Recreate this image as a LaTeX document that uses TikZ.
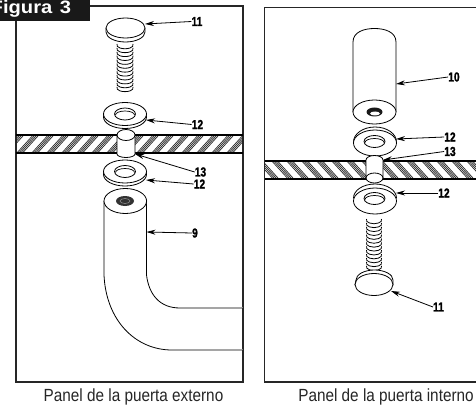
\documentclass[tikz,border=0pt]{standalone}
\usepackage{fontspec}
\setmainfont{Liberation Sans}
\newfontfamily\numfont[FakeStretch=0.78,FakeBold=1.5]{Liberation Sans Bold}
\newfontfamily\headfont[FakeStretch=1.12]{Liberation Sans Bold}
\newfontfamily\capfont[FakeStretch=0.87]{Liberation Sans}
\usetikzlibrary{arrows.meta}
\tikzset{
  part/.style={draw=black,fill=white,line width=0.8pt},
  frameline/.style={draw=black!85,line width=1.1pt},
  numlabel/.style={font=\numfont\fontsize{13}{13}\selectfont,inner sep=0pt},
  leader/.style={draw=black,line width=0.8pt,-{Stealth[length=9pt,width=5pt]}},
  captionlabel/.style={font=\capfont\fontsize{17.6}{18}\selectfont,inner sep=0pt,text=black!85},
}
% washer with its rim below: centre x,y of the top face
\newcommand{\washer}[2]{
  \draw[part] (#1-21.5,#2) -- (#1-21.5,#2+3) arc[start angle=180,end angle=0,x radius=21.5,y radius=11.5] -- (#1+21.5,#2);
  \draw[part] (#1,#2) ellipse[x radius=21.5,y radius=11.5];
}
\newcommand{\hole}[2]{
  \draw[part] (#1,#2) ellipse[x radius=10.5,y radius=6];
  \draw[black,line width=0.7pt] (#1-9.5,#2+1) arc[start angle=180,end angle=360,x radius=9.5,y radius=4];
}
\newcommand{\thread}[4]{% x1 x2 y1 count
  \foreach \tn in {0,...,#4}{
    \pgfmathsetmacro{\ty}{#3+\tn*3.9}
    \draw[black,line width=0.8pt] (#1,\ty) .. controls (#1-1,\ty+2) and (#1+1,\ty+3) .. (#1+3,\ty+4) .. controls (#1+6,\ty+5) and (#2-6,\ty+5) .. (#2-3,\ty+4) .. controls (#2-1,\ty+3) and (#2+1,\ty+2) .. (#2,\ty);
  }
}
\begin{document}
\begin{tikzpicture}[x=1pt,y=-1pt]
\useasboundingbox (0,0) rectangle (476,409);
\fill[white] (0,0) rectangle (476,409);
% frames
\draw[frameline] (85,6) -- (243,6) -- (243,382) -- (16,382) -- (16,15);
\draw[frameline] (476,7.5) -- (264.5,7.5) -- (264.5,382) -- (476,382);
% heading
\begin{scope}
\clip (0,0) rectangle (90,21);
\fill[black!90] (0,0) rectangle (90,21);
\node[anchor=base west,inner sep=0pt,text=white,font=\headfont\fontsize{18}{18}\selectfont] (fig) at (-9.5,14) {Figura\ \kern2pt 3};
\end{scope}
% left hatched band
\begin{scope}
\clip (16,135) rectangle (243,153);
\foreach \hn in {0,...,18}{
  \foreach \hd in {0,1.9,3.8,5.7}{
    \pgfmathsetmacro{\hxa}{\hn*15+\hd}
    \draw[black!85,line width=0.7pt] (\hxa,155) -- (\hxa+20,133);
  }
}
\end{scope}
\draw[black,line width=1.4pt] (16,135) -- (243,135) (16,153) -- (243,153);
% right hatched band
\begin{scope}
\clip (265,161) rectangle (476,179);
\foreach \hn in {0,...,17}{
  \foreach \hd in {0,1.9,3.8,5.7}{
    \pgfmathsetmacro{\hxa}{240+\hn*15+\hd}
    \draw[black!85,line width=0.7pt] (\hxa,159) -- (\hxa+20,181);
  }
}
\end{scope}
\draw[black,line width=1.4pt] (265,161) -- (476,161) (265,179) -- (476,179);
% left bolt
\thread{117}{133}{44}{11}
\draw[part] (106,28) -- (106,32) arc[start angle=180,end angle=0,x radius=19.5,y radius=10] -- (145,28);
\draw[part] (125.5,28) ellipse[x radius=19.5,y radius=10];
% left upper washer
\washer{125}{114}
\hole{125}{114}
% left spacer
\draw[part] (117,136) -- (117,154) arc[start angle=180,end angle=0,x radius=9,y radius=3.5] -- (135,136);
\draw[part] (126,135) ellipse[x radius=9,y radius=5.5];
% left lower washer
\washer{125}{171.5}
\hole{125}{171.5}
% left handle
\draw[part] (104,201) -- (104,275) .. controls (106,320) and (135,350) .. (172,350) -- (243,350);
\draw[part] (146.5,201) -- (146.5,275) .. controls (149,295) and (160,308) .. (180,308) -- (243,308);
\draw[part] (125.3,201) ellipse[x radius=21.3,y radius=12.5];
\fill[black!80] (125,201) ellipse[x radius=9,y radius=5];
\draw[black!40,line width=0.5pt] (125,201) ellipse[x radius=5,y radius=2.5];
% right cylinder
\draw[part] (353,112) -- (353,42) .. controls (353,32) and (364,28.5) .. (374.5,28.5) .. controls (385,28.5) and (396,32) .. (396,42) -- (396,112);
\draw[part] (374.5,112) ellipse[x radius=21.5,y radius=12];
\fill[black!90] (374.5,112) ellipse[x radius=8,y radius=4.5];
\fill[white] (375,113.5) ellipse[x radius=5,y radius=2];
% right upper washer (rim above)
\draw[part] (353.5,142) arc[start angle=180,end angle=360,x radius=21.5,y radius=15] -- cycle;
\draw[part] (375,143) ellipse[x radius=21.5,y radius=13];
\hole{374.5}{141.5}
% right lower washer (rim above), spacer in front
\draw[part] (353.5,198) arc[start angle=180,end angle=360,x radius=21.5,y radius=14] -- cycle;
\draw[part] (375,201) ellipse[x radius=21.5,y radius=13];
\hole{374.5}{198.5}
% right spacer
\draw[part] (366,178) -- (366,160) arc[start angle=180,end angle=360,x radius=8.5,y radius=4.5] -- (383,178);
\draw[part] (374.5,178) ellipse[x radius=8.5,y radius=5];
% right bolt
\thread{366.5}{381.5}{219}{12}
\draw[part] (356,280) arc[start angle=180,end angle=360,x radius=18.5,y radius=10] -- (393,285) -- (355,285) -- cycle;
\draw[part] (374,284.5) ellipse[x radius=19,y radius=11];
% labels
\node[numlabel] (n11a) at (197,21.5) {11};
\node[numlabel] (n12a) at (197.5,124.5) {12};
\node[numlabel] (n13a) at (200.5,172) {13};
\node[numlabel] (n12b) at (199.5,184) {12};
\node[numlabel] (n9) at (195,233) {9};
\node[numlabel] (n10) at (454,77) {10};
\node[numlabel] (n12c) at (450,137) {12};
\node[numlabel] (n13b) at (450,151.5) {13};
\node[numlabel] (n12d) at (444,193) {12};
\node[numlabel] (n11b) at (438.5,307) {11};
% arrow targets
\coordinate (t11a) at (145,24);
\coordinate (t12a) at (146,120);
\coordinate (t13a) at (135,154);
\coordinate (t12b) at (146,180);
\coordinate (t9) at (146.5,232);
\coordinate (t10) at (396,84);
\coordinate (t12c) at (396,139);
\coordinate (t13b) at (383,160);
\coordinate (t12d) at (396,193);
\coordinate (t11b) at (391,291);
\draw[leader] (n11a.west) -- (t11a);
\draw[leader] (n12a.west) -- (t12a);
\draw[leader] (n13a.west) -- (t13a);
\draw[leader] (n12b.west) -- (t12b);
\draw[leader] (n9.west) -- (t9);
\draw[leader] (n10.west) -- (t10);
\draw[leader] (n12c.west) -- (t12c);
\draw[leader] (n13b.west) -- (t13b);
\draw[leader] (n12d.west) -- (t12d);
\draw[leader] (n11b.west) -- (t11b);
% captions
\node[captionlabel,anchor=base] (capa) at (133.5,401.5) {Panel de la puerta externo};
\node[captionlabel,anchor=base] (capb) at (386,401.5) {Panel de la puerta interno};
\end{tikzpicture}
\end{document}
